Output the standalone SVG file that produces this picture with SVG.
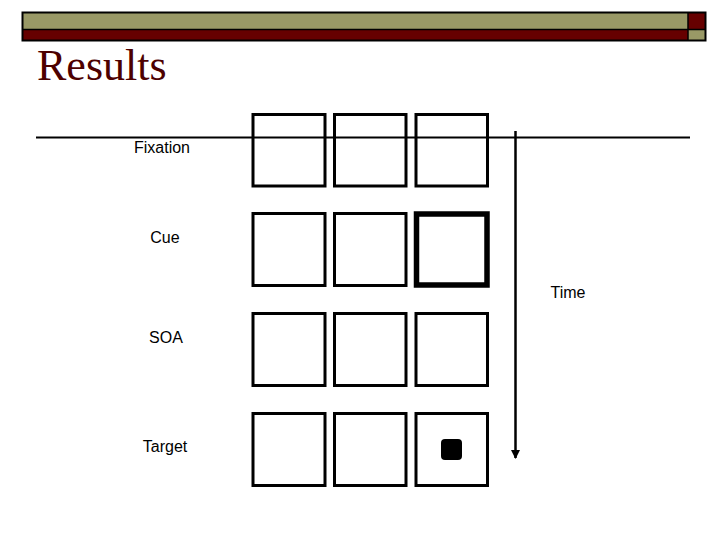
<svg xmlns="http://www.w3.org/2000/svg" width="720" height="540" viewBox="0 0 720 540">
<style>
.box{fill:none;stroke:#000;stroke-width:3}
.lbl{font-family:"Liberation Sans",Arial,sans-serif;font-size:16px;fill:#000;text-anchor:middle}
</style>
<defs>
<marker id="arr" viewBox="0 0 10 10" refX="9" refY="5" markerWidth="10" markerHeight="9" markerUnits="userSpaceOnUse" orient="auto">
<path d="M0,0 L10,5 L0,10 z" fill="#000"/>
</marker>
</defs>
<rect width="720" height="540" fill="#fff"/>
<g id="header">
<rect x="22" y="12" width="666" height="17" fill="#999966"/>
<rect x="22" y="29" width="666" height="12" fill="#660000"/>
<rect x="688" y="12" width="18" height="17" fill="#660000"/>
<rect x="688" y="29" width="18" height="12" fill="#999966"/>
<rect x="22.5" y="12.5" width="683" height="28" fill="none" stroke="#000" stroke-width="2"/>
<line x1="22" y1="29.5" x2="706" y2="29.5" stroke="#000" stroke-width="1.5"/>
<line x1="688" y1="12" x2="688" y2="41" stroke="#000" stroke-width="1.5"/>
</g>
<text id="title" x="37" y="80" font-family="Liberation Serif,serif" font-size="44" fill="#4d0000">Results</text>
<g id="rule"><line x1="36" y1="137.5" x2="690" y2="137.5" stroke="#000" stroke-width="2"/></g>
<g id="fixation">
<rect class="box" x="253" y="114.5" width="72" height="71.5"/>
<rect class="box" x="334.5" y="114.5" width="71.5" height="71.5"/>
<rect class="box" x="416" y="114.5" width="71.5" height="71.5"/>
<text class="lbl" x="162" y="153">Fixation</text>
</g>
<g id="cue">
<rect class="box" x="253" y="213.5" width="72" height="72"/>
<rect class="box" x="334.5" y="213.5" width="71.5" height="72"/>
<rect class="box" x="416.5" y="214" width="70.5" height="71" style="stroke-width:5.5"/>
<text class="lbl" x="165" y="243">Cue</text>
</g>
<g id="soa">
<rect class="box" x="253" y="313.5" width="72" height="72"/>
<rect class="box" x="334.5" y="313.5" width="71.5" height="72"/>
<rect class="box" x="416" y="313.5" width="71.5" height="72"/>
<text class="lbl" x="166" y="343">SOA</text>
</g>
<g id="target">
<rect class="box" x="253" y="413.5" width="72" height="72"/>
<rect class="box" x="334.5" y="413.5" width="71.5" height="72"/>
<rect class="box" x="416" y="413.5" width="71.5" height="72"/>
<rect x="441" y="439" width="21" height="21" rx="4" fill="#000"/>
<text class="lbl" x="165" y="452">Target</text>
</g>
<g id="connectors">
<line x1="515.5" y1="131" x2="515.5" y2="458" stroke="#000" stroke-width="2.5" marker-end="url(#arr)"/>
</g>
<text id="time" class="lbl" x="568" y="298">Time</text>
</svg>
